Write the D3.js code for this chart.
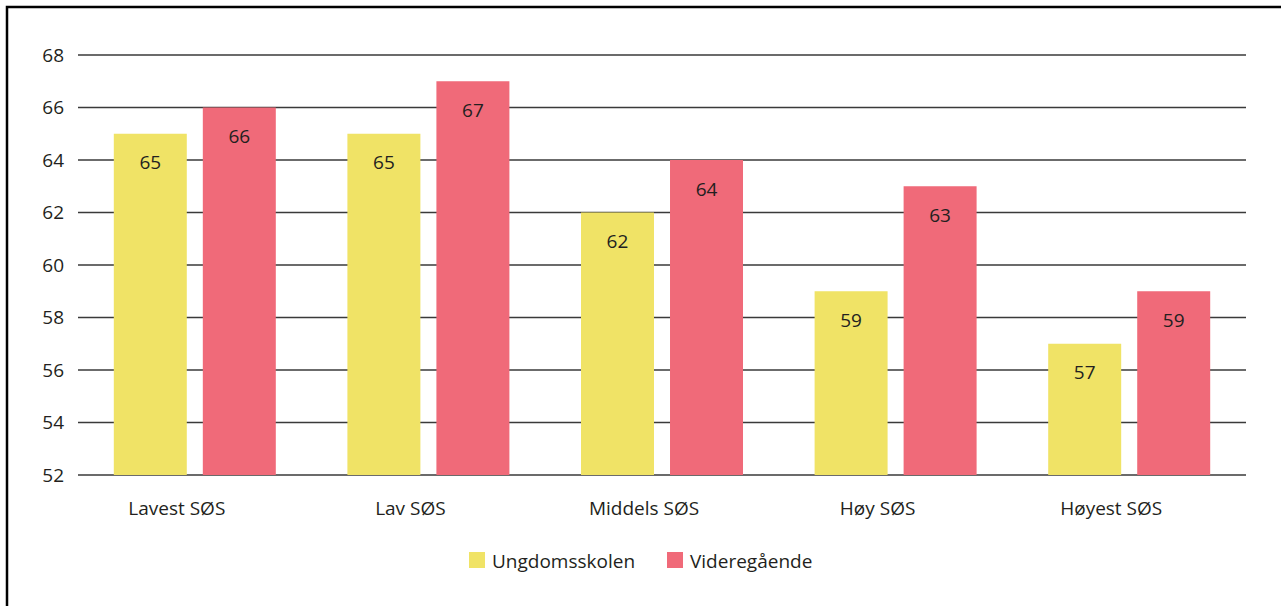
<!DOCTYPE html>
<html>
<head>
<meta charset="utf-8">
<script src="https://cdn.jsdelivr.net/npm/d3@7"></script>
<style>
  body { margin: 0; background: #fff; }
  svg { display: block; font-family: "Open Sans", sans-serif; }
</style>
</head>
<body>
<svg></svg>
<script>
const width = 1281;
const height = 606;

const categories = ['Lavest SØS', 'Lav SØS', 'Middels SØS', 'Høy SØS', 'Høyest SØS'];
const seriesNames = ['Ungdomsskolen', 'Videregående'];
const ungdomsskolen = [65, 65, 62, 59, 57];
const videregaende = [66, 67, 64, 63, 59];
const yTicks = [52, 54, 56, 58, 60, 62, 64, 66, 68];
const colors = ['#f0e366', '#f06a79'];

const seriesValues = [ungdomsskolen, videregaende];
const rows = categories.map((c, i) => ({
  category: c,
  values: seriesNames.map((s, j) => ({ series: s, value: seriesValues[j][i] }))
}));

const svg = d3.select('svg').attr('width', width).attr('height', height);

// frame (only left and top edges show in the original crop)
svg.append('path')
  .attr('d', 'M7,' + height + ' V7 H' + width)
  .attr('fill', 'none')
  .attr('stroke', '#000')
  .attr('stroke-width', 2.5);

const x0 = d3.scaleBand().domain(categories).range([78, 1246]);
const x1 = d3.scaleBand().domain(seriesNames)
  .range([(x0.bandwidth() - 162) / 2, (x0.bandwidth() + 162) / 2])
  .paddingInner(0.18);
const y = d3.scaleLinear().domain([52, 68]).range([475, 55]);
const color = d3.scaleOrdinal().domain(seriesNames).range(colors);

// gridlines
svg.append('g')
  .selectAll('line')
  .data(yTicks)
  .enter().append('line')
  .attr('x1', 78).attr('x2', 1246)
  .attr('y1', d => y(d)).attr('y2', d => y(d))
  .attr('stroke', '#3a3a3a')
  .attr('stroke-width', 1.3);

// y tick labels
svg.append('g')
  .selectAll('text')
  .data(yTicks)
  .enter().append('text')
  .attr('x', 64)
  .attr('y', d => y(d))
  .attr('dy', '0.36em')
  .attr('text-anchor', 'end')
  .attr('font-size', 19)
  .attr('fill', '#231f20')
  .text(d => d);

// bars
const groups = svg.append('g')
  .selectAll('g')
  .data(rows)
  .enter().append('g')
  .attr('transform', d => 'translate(' + x0(d.category) + ',0)');

groups.selectAll('rect')
  .data(d => d.values)
  .enter().append('rect')
  .attr('x', d => x1(d.series))
  .attr('width', x1.bandwidth())
  .attr('y', d => y(d.value))
  .attr('height', d => y(52) - y(d.value))
  .attr('fill', d => color(d.series));

groups.selectAll('text')
  .data(d => d.values)
  .enter().append('text')
  .attr('x', d => x1(d.series) + x1.bandwidth() / 2)
  .attr('y', d => y(d.value) + 35.5)
  .attr('text-anchor', 'middle')
  .attr('font-size', 19)
  .attr('fill', '#231f20')
  .text(d => d.value);

// category labels
svg.append('g')
  .selectAll('text')
  .data(categories)
  .enter().append('text')
  .attr('x', d => x0(d) + x0.bandwidth() / 2 - 18)
  .attr('y', 515)
  .attr('text-anchor', 'middle')
  .attr('font-size', 19)
  .attr('fill', '#231f20')
  .text(d => d);

// legend
const legendX = [469, 667];
const legend = svg.append('g')
  .selectAll('g')
  .data(seriesNames)
  .enter().append('g')
  .attr('transform', (d, i) => 'translate(' + legendX[i] + ',552)');

legend.append('rect')
  .attr('width', 16).attr('height', 16)
  .attr('fill', d => color(d));

legend.append('text')
  .attr('x', 23)
  .attr('y', 15.5)
  .attr('font-size', 19)
  .attr('fill', '#231f20')
  .text(d => d);
</script>
</body>
</html>
